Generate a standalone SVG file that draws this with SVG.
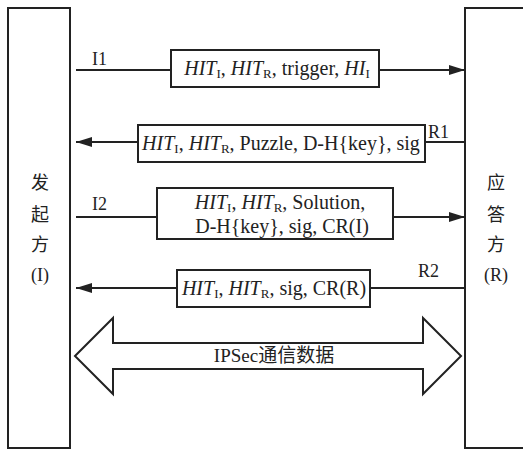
<svg xmlns="http://www.w3.org/2000/svg" width="523" height="450" viewBox="0 0 523 450">
<style>
.box{fill:#fff;stroke:#222;stroke-width:2}
.ln{stroke:#222;stroke-width:2;fill:none}
.t{font-family:"Liberation Serif","Noto Sans CJK SC",serif;font-size:20px;fill:#222}
.lb{font-family:"Liberation Serif",serif;font-size:18px;fill:#222}
.cj{font-family:"Liberation Serif","Noto Sans CJK SC",serif;font-size:18px;fill:#222;text-anchor:middle}
.it{font-style:italic}
.sb{font-size:13px}
</style>
<defs>
<marker id="ah" viewBox="0 0 16 10" refX="16" refY="5" markerWidth="16" markerHeight="10" markerUnits="userSpaceOnUse" orient="auto">
<path d="M0,0 L16,5 L0,10 Z" fill="#222"/>
</marker>
</defs>
<g id="initiator">
<rect class="box" x="8" y="8" width="62" height="440"/>
<text class="cj" x="40" y="189">发</text>
<text class="cj" x="40" y="221">起</text>
<text class="cj" x="40" y="251">方</text>
<text class="cj" x="40" y="281">(I)</text>
</g>
<g id="responder">
<rect class="box" x="465" y="8" width="70" height="440"/>
<text class="cj" x="496" y="189">应</text>
<text class="cj" x="496" y="221">答</text>
<text class="cj" x="496" y="251">方</text>
<text class="cj" x="496" y="281">(R)</text>
</g>
<g id="connectors">
<line class="ln" x1="76" y1="70" x2="465" y2="70" marker-end="url(#ah)"/>
<line class="ln" x1="465" y1="142" x2="76" y2="142" marker-end="url(#ah)"/>
<line class="ln" x1="76" y1="217" x2="465" y2="217" marker-end="url(#ah)"/>
<line class="ln" x1="465" y1="288" x2="76" y2="288" marker-end="url(#ah)"/>
<text class="lb" x="92" y="65">I1</text>
<text class="lb" x="428" y="138">R1</text>
<text class="lb" x="92" y="210">I2</text>
<text class="lb" x="418" y="277">R2</text>
</g>
<g id="msg-I1">
<rect class="box" x="171" y="50" width="208" height="37"/>
<text class="t" x="277" y="75" text-anchor="middle"><tspan class="it">HIT</tspan><tspan class="sb" dy="3">I</tspan><tspan dy="-3">, </tspan><tspan class="it">HIT</tspan><tspan class="sb" dy="3">R</tspan><tspan dy="-3">, trigger, </tspan><tspan class="it">HI</tspan><tspan class="sb" dy="3">I</tspan></text>
</g>
<g id="msg-R1">
<rect class="box" x="138" y="125" width="287" height="37"/>
<text class="t" x="281" y="150" text-anchor="middle"><tspan class="it">HIT</tspan><tspan class="sb" dy="3">I</tspan><tspan dy="-3">, </tspan><tspan class="it">HIT</tspan><tspan class="sb" dy="3">R</tspan><tspan dy="-3">, Puzzle, D-H{key}, sig</tspan></text>
</g>
<g id="msg-I2">
<rect class="box" x="157" y="188" width="236" height="51"/>
<text class="t" x="280" y="209" text-anchor="middle"><tspan class="it">HIT</tspan><tspan class="sb" dy="3">I</tspan><tspan dy="-3">, </tspan><tspan class="it">HIT</tspan><tspan class="sb" dy="3">R</tspan><tspan dy="-3">, Solution,</tspan></text>
<text class="t" x="282" y="233" text-anchor="middle">D-H{key}, sig, CR(I)</text>
</g>
<g id="msg-R2">
<rect class="box" x="177" y="270" width="193" height="37"/>
<text class="t" x="274" y="295" text-anchor="middle"><tspan class="it">HIT</tspan><tspan class="sb" dy="3">I</tspan><tspan dy="-3">, </tspan><tspan class="it">HIT</tspan><tspan class="sb" dy="3">R</tspan><tspan dy="-3">, sig, CR(R)</tspan></text>
</g>
<g id="ipsec">
<polygon class="box" points="75,356 113,318 113,343 423,343 423,318 461,356 423,394 423,369 113,369 113,394"/>
<text class="t" x="274" y="362" text-anchor="middle" style="font-size:19px">IPSec通信数据</text>
</g>
</svg>
